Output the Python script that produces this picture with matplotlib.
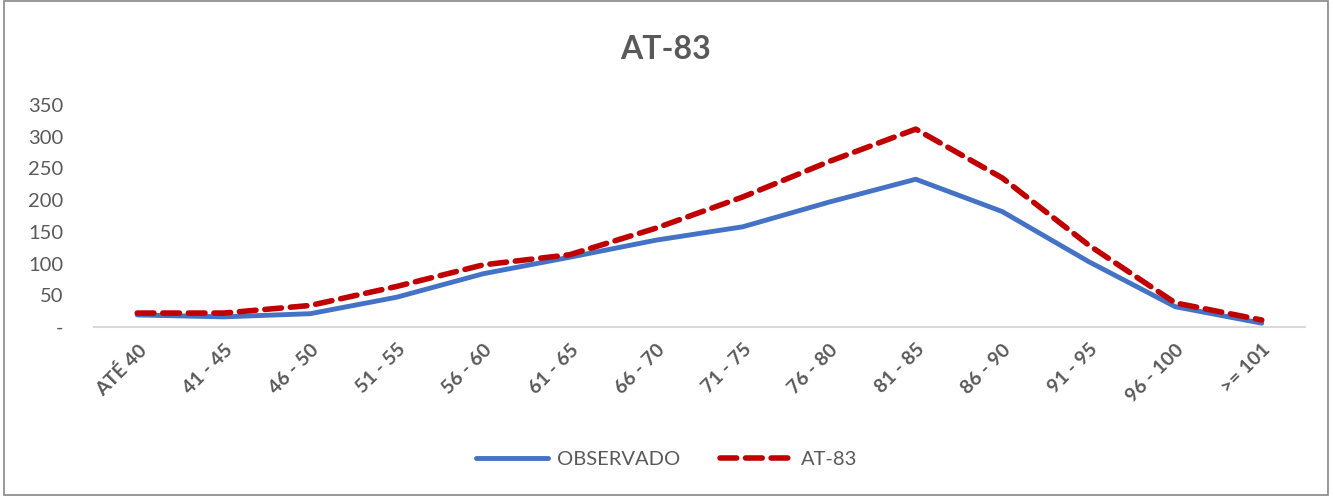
import matplotlib.pyplot as plt
from matplotlib.patches import Rectangle

categories = ["ATÉ 40", "41 - 45", "46 - 50", "51 - 55", "56 - 60", "61 - 65", "66 - 70",
              "71 - 75", "76 - 80", "81 - 85", "86 - 90", "91 - 95", "96 - 100", ">= 101"]
observado = [19, 16, 21, 47, 84, 110, 137, 158, 197, 233, 182, 103, 32, 6]
at83 = [22, 22, 34, 64, 98, 114, 156, 205, 261, 312, 235, 129, 38, 11]
yticks = [0, 50, 100, 150, 200, 250, 300, 350]
ytick_labels = ["-", "50", "100", "150", "200", "250", "300", "350"]

grey = "#595959"
plt.rcParams['font.family'] = ['Lato', 'DejaVu Sans']

fig = plt.figure(figsize=(13.33, 4.96), dpi=100)
ax = fig.add_axes([0.0705, 0.3407, 0.9085, 0.4476])

x = list(range(len(categories)))
ax.plot(x, observado, color="#4472C4", lw=3.5, solid_capstyle="round",
        solid_joinstyle="round", label="OBSERVADO")
ax.plot(x, at83, color="#C00000", lw=4, dashes=(3.0, 1.6), dash_capstyle="round",
        label="AT-83")

ax.set_xlim(-0.5, len(categories) - 0.5)
ax.set_ylim(0, 350)
ax.set_yticks(yticks)
ax.set_yticklabels(ytick_labels, fontsize=14.5, color=grey)
ax.set_xticks(x)
ax.set_xticklabels(categories, rotation=45, ha="right", rotation_mode="anchor",
                   fontsize=14, fontweight="bold", color=grey)
ax.tick_params(axis="both", length=0)
ax.tick_params(axis="y", pad=22)
ax.tick_params(axis="x", pad=10)
for side in ["top", "right", "left"]:
    ax.spines[side].set_visible(False)
ax.spines["bottom"].set_color("#D9D9D9")
ax.spines["bottom"].set_linewidth(1.5)

fig.text(0.499, 0.9, "AT-83", ha="center", va="center", fontsize=23,
         fontweight="bold", color=grey)

leg = fig.legend(loc="center", bbox_to_anchor=(0.5, 0.073), ncol=2, frameon=False,
                 fontsize=14.5, handlelength=3.6, columnspacing=2.0, handletextpad=0.4)
for t in leg.get_texts():
    t.set_color(grey)

fig.patches.append(Rectangle((0.003, 0.003), 0.993, 0.994, transform=fig.transFigure,
                             fill=False, edgecolor="#888888", lw=1.2))

fig.savefig("out.png", dpi=100)
